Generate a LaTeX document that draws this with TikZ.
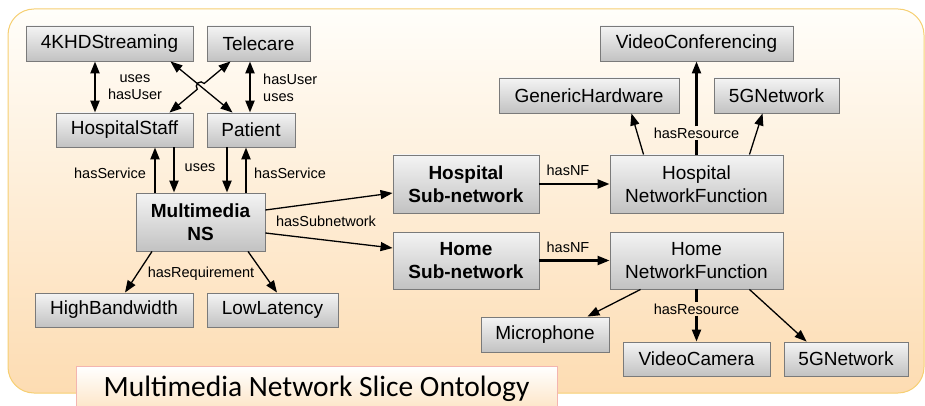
\documentclass[tikz,border=0pt]{standalone}
\usepackage{fontspec}
\setmainfont{Liberation Sans}
\newfontfamily\titlefont{Carlito}
\usetikzlibrary{arrows.meta,calc}

\definecolor{bgtop}{HTML}{FFFEFA}
\definecolor{bgbot}{HTML}{FDDCB2}
\definecolor{bgline}{HTML}{F6CF72}
\definecolor{nodetop}{HTML}{F4F4F4}
\definecolor{nodebot}{HTML}{C2C2C2}
\definecolor{nodeline}{HTML}{7A7A7A}
\definecolor{ttltop}{HTML}{FFFFFF}
\definecolor{ttlbot}{HTML}{FDE4C4}
\definecolor{ttlline}{HTML}{F3B5B0}

\tikzset{
  tip/.tip={Triangle[length=12pt,width=9pt]},
  cls/.style={draw=nodeline, line width=0.9pt, top color=nodetop, bottom color=nodebot,
    inner sep=0pt, align=center, font=\fontsize{19}{23}\selectfont},
  clsbold/.style={cls, font=\fontsize{19}{23}\selectfont\bfseries},
  rel/.style={font=\fontsize{14.5}{17}\selectfont, inner sep=1pt, align=center},
  thickarr/.style={line width=2.2pt, -tip},
  thinarr/.style={line width=1.3pt, -tip},
  thickdbl/.style={line width=2.2pt, tip-tip},
  thindbl/.style={line width=1.3pt, tip-tip},
}

\begin{document}
\begin{tikzpicture}[x=1pt, y=-1pt]
\useasboundingbox (0,0) rectangle (925,406);

% background panel
\draw[bgline, line width=1pt, rounded corners=26pt, top color=bgtop, bottom color=bgbot]
  (8,9) rectangle (924,393);

% class nodes
\node[cls, minimum width=167, minimum height=35] (hd)   at (109.5,43.5) {4KHDStreaming};
\node[cls, minimum width=103, minimum height=35] (tele) at (258.5,43.5) {Telecare};
\node[cls, minimum width=137, minimum height=34] (hs)   at (124.5,130) {HospitalStaff};
\node[cls, minimum width=88,  minimum height=34] (pat)  at (251,130) {Patient};
\node[clsbold, minimum width=129, minimum height=58] (ns) at (200.5,222) {Multimedia\\NS};
\node[cls, minimum width=158, minimum height=34] (hb)   at (114,310) {HighBandwidth};
\node[cls, minimum width=131, minimum height=34] (ll)   at (272.5,310) {LowLatency};
\node[clsbold, minimum width=146, minimum height=58] (hsub) at (466,184) {Hospital\\Sub-network};
\node[clsbold, minimum width=146, minimum height=57] (msub) at (466,260.5) {Home\\Sub-network};
\node[cls, minimum width=173, minimum height=58] (hnf)  at (696.5,184) {Hospital\\NetworkFunction};
\node[cls, minimum width=173, minimum height=57] (mnf)  at (696.5,260.5) {Home\\NetworkFunction};
\node[cls, minimum width=193, minimum height=35] (vc)   at (696.5,43.5) {VideoConferencing};
\node[cls, minimum width=180, minimum height=35] (gh)   at (589,95.5) {GenericHardware};
\node[cls, minimum width=125, minimum height=35] (gta)  at (776.5,95.5) {5GNetwork};
\node[cls, minimum width=128, minimum height=35] (mic)  at (545,334.5) {Microphone};
\node[cls, minimum width=147, minimum height=34] (cam)  at (696.5,359) {VideoCamera};
\node[cls, minimum width=124, minimum height=34] (gtb)  at (846,359) {5GNetwork};

% relation labels
\node[rel] (lusesa) at (135,87.5) {uses\\hasUser};
\node[rel, anchor=west, align=left] (lusesb) at (262,87.5) {hasUser\\uses};
\node[rel] (lsvca) at (110,173) {hasService};
\node[rel] (luses) at (200,168) {uses};
\node[rel] (lsvcb) at (290,173) {hasService};
\node[rel] (lsub)  at (326,221) {hasSubnetwork};
\node[rel] (lreq)  at (201,274) {hasRequirement};
\node[rel] (lnfa)  at (568,170) {hasNF};
\node[rel] (lnfb)  at (568,247) {hasNF};
\node[rel] (lresa) at (696.5,133) {hasResource};
\node[rel] (lresb) at (696.5,309) {hasResource};

% users of the services
\draw[thickdbl] ([xshift=-14.5]hd.south) -- ([xshift=-29.5]hs.north);
\draw[thickdbl] ([xshift=-8.5]tele.south) -- ([xshift=-1]pat.north);

% crossing links, with a hop over the other line
\coordinate (a1) at ([xshift=-23]hd.south east);
\coordinate (a2) at ([xshift=26]pat.north west);
\coordinate (b1) at ([xshift=24]tele.south west);
\coordinate (b2) at ([xshift=-24]hs.north east);
\coordinate (cx) at (intersection of a1--a2 and b1--b2);
\draw[thindbl] (a1) -- (a2);
\draw[thindbl]
  (b1) -- ($(cx)!4.5pt!(b1)$) arc[start angle=40, end angle=220, radius=4.5pt] -- (b2);

% services of the network slice
\draw[thickarr] ([xshift=-45.5]ns.north) -- ([xshift=30.5]hs.south);
\draw[thickarr] ([xshift=49.5]hs.south) -- ([xshift=-26.5]ns.north);
\draw[thickarr] ([xshift=-24]pat.south) -- ([xshift=26.5]ns.north);
\draw[thickarr] ([xshift=45.5]ns.north) -- ([xshift=-5]pat.south);

% requirements
\draw[thinarr] ([xshift=-48.5]ns.south) -- ([xshift=11]hb.north);
\draw[thinarr] ([xshift=47.5]ns.south) -- ([xshift=4.5]ll.north);

% sub-networks
\draw[thinarr] ([yshift=12]ns.east) -- ([yshift=-9]hsub.west);
\draw[thinarr] ([yshift=-11]ns.east) -- ([yshift=12.5]msub.west);
\draw[thickarr] (hsub.east) -- (hnf.west);
\draw[thickarr] (msub.east) -- (mnf.west);

% hospital resources
\draw[thinarr] ([xshift=34]hnf.north west) -- ([xshift=-48]gh.south east);
\draw[line width=2.2pt] (hnf.north) -- (lresa.south);
\draw[thickarr] (lresa.north) -- (vc.south);
\draw[thinarr] ([xshift=-34]hnf.north east) -- ([xshift=49]gta.south west);

% home resources
\draw[thinarr] ([xshift=31]mnf.south west) -- ([xshift=-22]mic.north east);
\draw[line width=2.2pt] (mnf.south) -- (lresb.north);
\draw[thickarr] (lresb.south) -- (cam.north);
\draw[thinarr] ([xshift=-34]mnf.south east) -- ([xshift=23]gtb.north west);

% caption box
\node[draw=ttlline, line width=1.2pt, top color=ttltop, bottom color=ttlbot,
  minimum width=481, minimum height=44, inner sep=0pt, anchor=north west,
  font=\titlefont\fontsize{29.5}{32}\selectfont] (ttl) at (75.5,366) {\raisebox{-3pt}{Multimedia Network Slice Ontology}};
\end{tikzpicture}
\end{document}
